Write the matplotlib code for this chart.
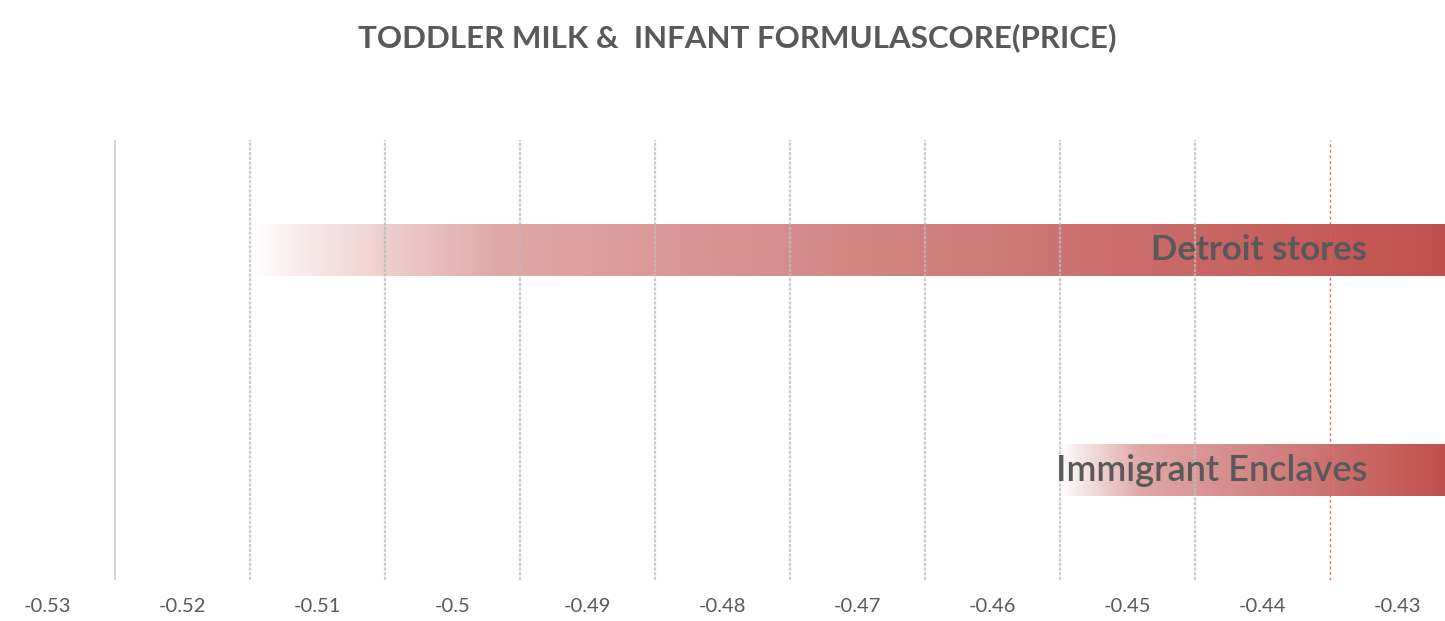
import numpy as np
import matplotlib
matplotlib.use("Agg")
import matplotlib.pyplot as plt

# Chart data
categories = ["Detroit stores", "Immigrant Enclaves"]
scores = [-0.515, -0.455]
tick_values = [-0.53, -0.52, -0.51, -0.50, -0.49, -0.48, -0.47, -0.46, -0.45, -0.44, -0.43]
tick_labels = ["-0.53", "-0.52", "-0.51", "-0.5", "-0.49", "-0.48", "-0.47",
               "-0.46", "-0.45", "-0.44", "-0.43"]
grid_values = [-0.525, -0.515, -0.505, -0.495, -0.485, -0.475, -0.465, -0.455, -0.445, -0.435]

TEXT = "#595959"
BAR_RGB = np.array([192, 80, 77]) / 255.0

fig = plt.figure(figsize=(14.45, 6.21), dpi=100)
ax = fig.add_axes([0.0, 0.066, 1.0, 0.7086])

x_left, x_right = -0.53348, -0.42652
ax.set_xlim(x_left, x_right)
ax.set_ylim(1.5, -0.5)

# gradient bars (white -> red), running from the score to the right axis edge
bar_h = 0.236
for i, (cat, val) in enumerate(zip(categories, scores)):
    n = 600
    frac = np.linspace(0, 1, n)
    t = np.interp(frac, [0, 0.03, 0.21, 1.0], [0.0, 0.08, 0.5, 1.0])
    rgb = (1 - t)[:, None] * np.ones(3) + t[:, None] * BAR_RGB
    img = rgb[None, :, :]
    ax.imshow(img, extent=[val, x_right, i + bar_h / 2, i - bar_h / 2],
              aspect="auto", interpolation="bilinear", zorder=2)

# vertical gridlines
for k, g in enumerate(grid_values):
    if k == 0:
        ax.axvline(g, color="#D0D0D0", lw=1.3, zorder=3)
    elif k == len(grid_values) - 1:
        ax.axvline(g, color="#E05A5A", lw=1.0, ls=(0, (2, 2)), alpha=0.9, zorder=3)
    else:
        ax.axvline(g, color="#BDBDBD", lw=1.6, ls=(0, (1.5, 0.6)), alpha=0.75, zorder=3)

# category labels inside the bars
label_x = -0.4323
ax.text(label_x, 0 + 0.0, categories[0], ha="right", va="center",
        fontsize=25, fontweight="bold", color=TEXT, family="Lato", zorder=4)
ax.text(label_x, 1 + 0.0, categories[1], ha="right", va="center",
        fontsize=26, fontweight="semibold", color=TEXT, family="Lato", zorder=4)

ax.set_xticks(tick_values)
ax.set_xticklabels(tick_labels, color=TEXT, fontsize=14.5, family="Lato")
ax.tick_params(axis="x", length=0, pad=13)
ax.set_yticks([])
for s in ax.spines.values():
    s.set_visible(False)

fig.text(0.51, 0.94, "TODDLER MILK &  INFANT FORMULASCORE(PRICE)", ha="center", va="center",
         fontsize=22.5, fontweight="bold", color=TEXT, family="Lato")

fig.savefig("out.png", dpi=100, facecolor="white")
